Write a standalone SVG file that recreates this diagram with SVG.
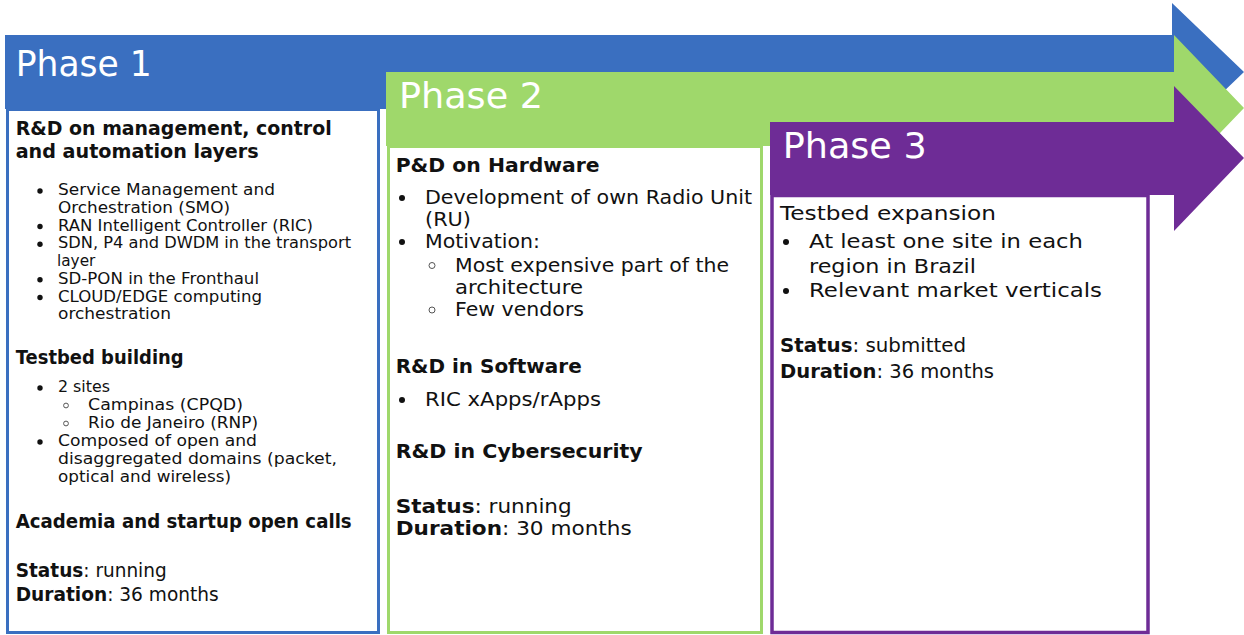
<svg xmlns="http://www.w3.org/2000/svg" width="1244" height="635" viewBox="0 0 1244 635">
<style>
text{font-family:"DejaVu Sans","Liberation Sans",sans-serif;fill:#111}
.title{fill:#fff;font-size:36px}
.h{font-weight:700;font-size:19px}
.s1{font-size:15.3px}
.s2{font-size:19px}
.b{font-weight:700}
.dot{fill:#111}
.ring{fill:none;stroke:#555;stroke-width:1}
</style>
<rect width="1244" height="635" fill="#fff"/>
<g id="phase1">
<polygon points="5,35 1172,35 1172,3 1244,72 1172,141 1172,109 5,109" fill="#3A6FC0"/>
<rect x="7.5" y="109.5" width="371" height="523" fill="#fff" stroke="#3A6FC0" stroke-width="3"/>
<text class="title" x="15.7" y="76" textLength="136" lengthAdjust="spacingAndGlyphs">Phase 1</text>
<text class="h" x="15.7" y="135" textLength="316" lengthAdjust="spacingAndGlyphs">R&amp;D on management, control</text>
<text class="h" x="15.7" y="158" textLength="243" lengthAdjust="spacingAndGlyphs">and automation layers</text>
<g class="s1">
<circle class="dot" cx="40" cy="191" r="2.7"/><text x="58" y="195" textLength="217" lengthAdjust="spacingAndGlyphs">Service Management and</text>
<text x="58" y="212.8" textLength="172" lengthAdjust="spacingAndGlyphs">Orchestration (SMO)</text>
<circle class="dot" cx="40" cy="226.5" r="2.7"/><text x="58" y="230.5" textLength="255" lengthAdjust="spacingAndGlyphs">RAN Intelligent Controller (RIC)</text>
<circle class="dot" cx="40" cy="244.2" r="2.7"/><text x="58" y="248.2" textLength="293" lengthAdjust="spacingAndGlyphs">SDN, P4 and DWDM in the transport</text>
<text x="57" y="266">layer</text>
<circle class="dot" cx="40" cy="279.8" r="2.7"/><text x="58" y="283.8" textLength="201" lengthAdjust="spacingAndGlyphs">SD-PON in the Fronthaul</text>
<circle class="dot" cx="40" cy="297.5" r="2.7"/><text x="58" y="301.5" textLength="204" lengthAdjust="spacingAndGlyphs">CLOUD/EDGE computing</text>
<text x="58" y="319.2" textLength="113" lengthAdjust="spacingAndGlyphs">orchestration</text>
</g>
<text class="h" x="15.7" y="364" textLength="168" lengthAdjust="spacingAndGlyphs">Testbed building</text>
<g class="s1">
<circle class="dot" cx="40" cy="388" r="2.7"/><text x="58" y="392" textLength="52" lengthAdjust="spacingAndGlyphs">2 sites</text>
<circle class="ring" cx="66" cy="405.5" r="2.4"/><text x="88" y="410" textLength="155" lengthAdjust="spacingAndGlyphs">Campinas (CPQD)</text>
<circle class="ring" cx="66" cy="423.5" r="2.4"/><text x="88" y="428" textLength="170" lengthAdjust="spacingAndGlyphs">Rio de Janeiro (RNP)</text>
<circle class="dot" cx="40" cy="442" r="2.7"/><text x="58" y="446" textLength="199" lengthAdjust="spacingAndGlyphs">Composed of open and</text>
<text x="58" y="464" textLength="279" lengthAdjust="spacingAndGlyphs">disaggregated domains (packet,</text>
<text x="58" y="482" textLength="173" lengthAdjust="spacingAndGlyphs">optical and wireless)</text>
</g>
<text class="h" x="15.7" y="528" textLength="336" lengthAdjust="spacingAndGlyphs">Academia and startup open calls</text>
<text class="s2" x="15.7" y="577" textLength="151" lengthAdjust="spacingAndGlyphs"><tspan class="b">Status</tspan>: running</text>
<text class="s2" x="15.7" y="601" textLength="203" lengthAdjust="spacingAndGlyphs"><tspan class="b">Duration</tspan>: 36 months</text>
</g>
<g id="phase2">
<polygon points="386,72 1174,72 1174,35 1244,108 1174,181 1174,146 386,146" fill="#9FD86B"/>
<rect x="388.5" y="146.5" width="373" height="486" fill="#fff" stroke="#9FD86B" stroke-width="3"/>
<text class="title" x="399" y="108" textLength="144" lengthAdjust="spacingAndGlyphs">Phase 2</text>
<text class="h" x="395.7" y="172" textLength="204" lengthAdjust="spacingAndGlyphs">P&amp;D on Hardware</text>
<g class="s2">
<circle class="dot" cx="402" cy="198" r="3"/><text x="425" y="204" textLength="327" lengthAdjust="spacingAndGlyphs">Development of own Radio Unit</text>
<text x="425" y="226" textLength="46" lengthAdjust="spacingAndGlyphs">(RU)</text>
<circle class="dot" cx="402" cy="242" r="3"/><text x="425" y="248" textLength="115" lengthAdjust="spacingAndGlyphs">Motivation:</text>
<circle class="ring" cx="432" cy="265.5" r="3"/><text x="455" y="271.5" textLength="274" lengthAdjust="spacingAndGlyphs">Most expensive part of the</text>
<text x="455" y="293.5" textLength="128" lengthAdjust="spacingAndGlyphs">architecture</text>
<circle class="ring" cx="432" cy="310" r="3"/><text x="455" y="316" textLength="129" lengthAdjust="spacingAndGlyphs">Few vendors</text>
</g>
<text class="h" x="395.7" y="373" textLength="186" lengthAdjust="spacingAndGlyphs">R&amp;D in Software</text>
<circle class="dot" cx="402" cy="400" r="3"/><text class="s2" x="425" y="406" textLength="176" lengthAdjust="spacingAndGlyphs">RIC xApps/rApps</text>
<text class="h" x="395.7" y="458" textLength="247" lengthAdjust="spacingAndGlyphs">R&amp;D in Cybersecurity</text>
<text class="s2" x="395.7" y="513" textLength="176" lengthAdjust="spacingAndGlyphs"><tspan class="b">Status</tspan>: running</text>
<text class="s2" x="395.7" y="534.5" textLength="236" lengthAdjust="spacingAndGlyphs"><tspan class="b">Duration</tspan>: 30 months</text>
</g>
<g id="phase3">
<polygon points="770,122 1174,122 1174,86 1244,158 1174,231 1174,195 770,195" fill="#6E2C96"/>
<rect x="772" y="195.5" width="376" height="437" fill="#fff" stroke="#6E2C96" stroke-width="3.5"/>
<text class="title" x="782.7" y="158" textLength="144" lengthAdjust="spacingAndGlyphs">Phase 3</text>
<text class="s2" x="780" y="220" textLength="216" lengthAdjust="spacingAndGlyphs">Testbed expansion</text>
<g class="s2">
<circle class="dot" cx="786" cy="242" r="3"/><text x="809" y="248" textLength="274" lengthAdjust="spacingAndGlyphs">At least one site in each</text>
<text x="809" y="273" textLength="167" lengthAdjust="spacingAndGlyphs">region in Brazil</text>
<circle class="dot" cx="786" cy="291" r="3"/><text x="809" y="297" textLength="293" lengthAdjust="spacingAndGlyphs">Relevant market verticals</text>
</g>
<text class="s2" x="780" y="352" textLength="186" lengthAdjust="spacingAndGlyphs"><tspan class="b">Status</tspan>: submitted</text>
<text class="s2" x="780" y="378" textLength="214" lengthAdjust="spacingAndGlyphs"><tspan class="b">Duration</tspan>: 36 months</text>
</g>
</svg>
